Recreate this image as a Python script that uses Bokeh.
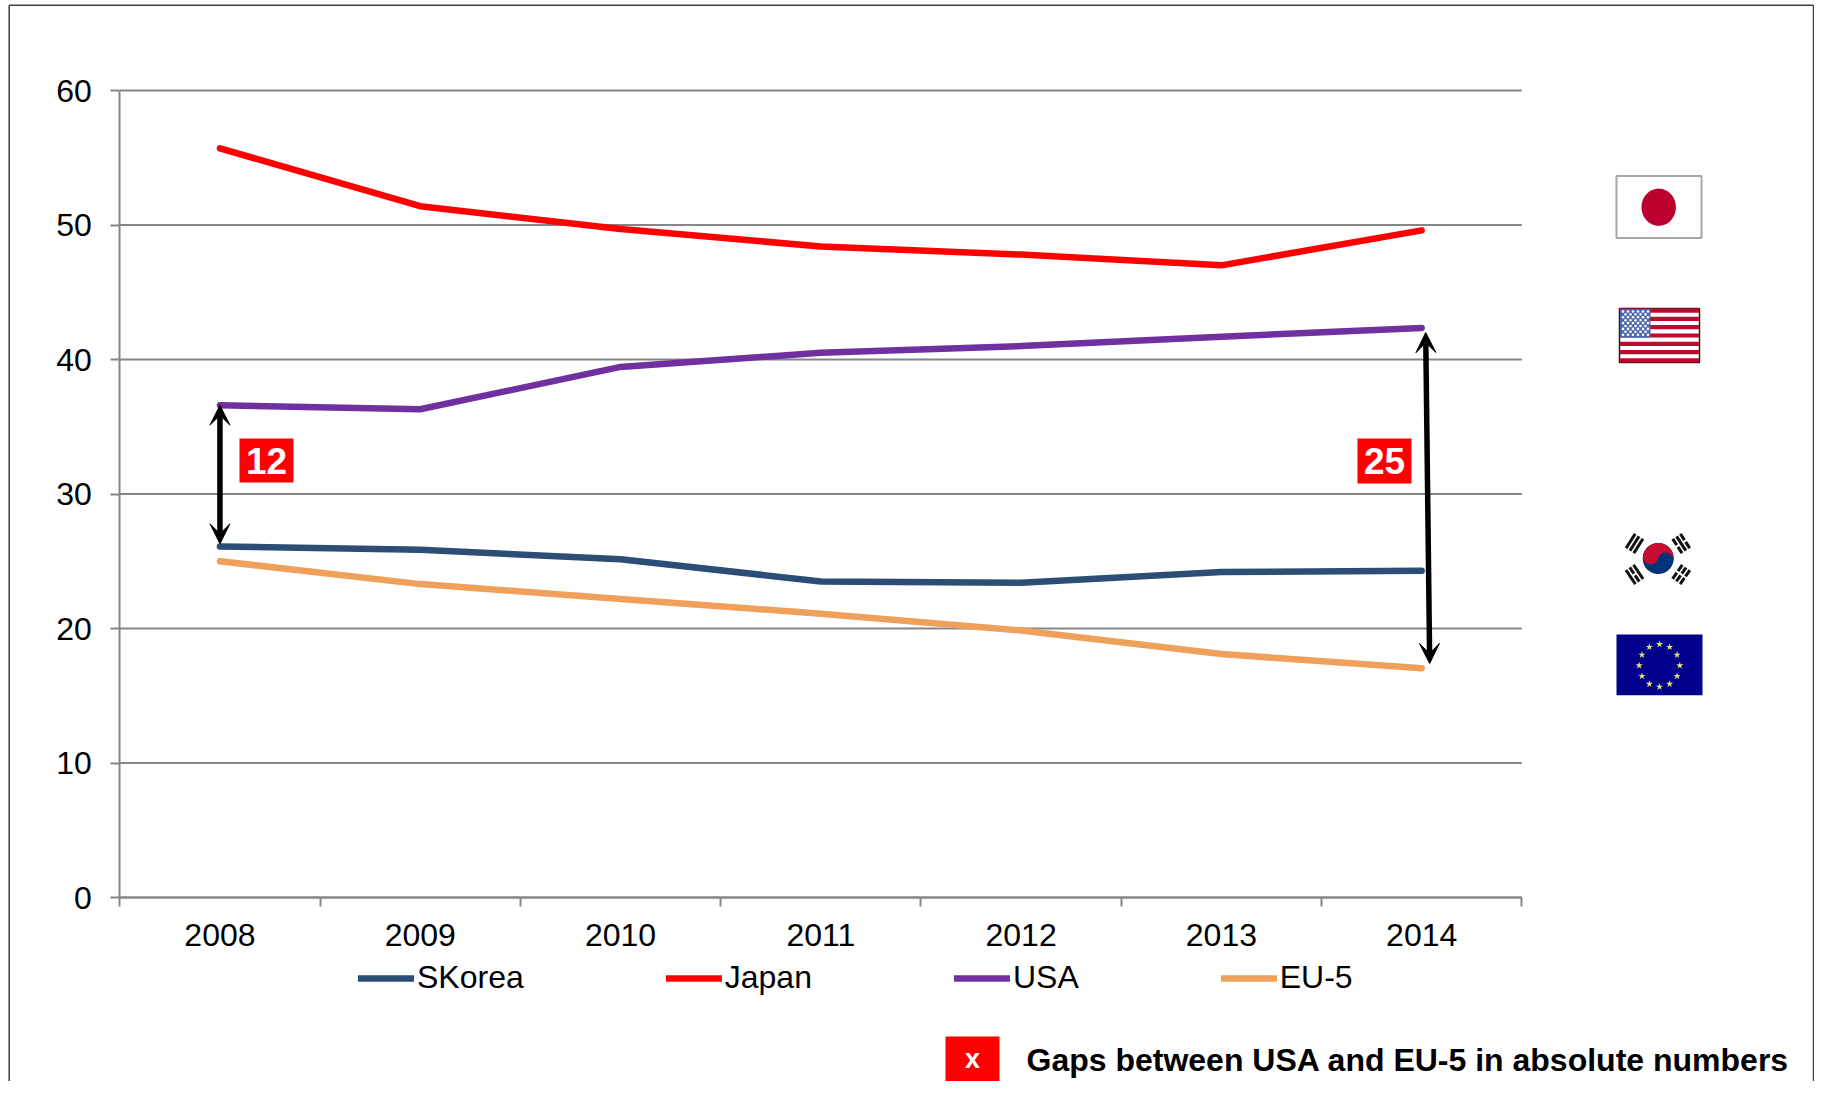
import numpy as np
from bokeh.plotting import figure
from bokeh.embed import file_html
from bokeh.resources import INLINE
from bokeh.core.properties import value
from bokeh.models import (Range1d, FixedTicker, Legend, LegendItem, Arrow, VeeHead)

years = ["2008", "2009", "2010", "2011", "2012", "2013", "2014"]
skorea = [26.1, 25.85, 25.15, 23.5, 23.4, 24.2, 24.3]
japan = [55.7, 51.4, 49.7, 48.4, 47.8, 47.0, 49.6]
usa = [36.6, 36.3, 39.45, 40.5, 41.0, 41.7, 42.35]
eu5 = [25.0, 23.3, 22.2, 21.1, 19.85, 18.1, 17.05]
y_ticks = [0, 10, 20, 30, 40, 50, 60]
series_names = ["SKorea", "Japan", "USA", "EU-5"]
series_colors = ["#2C4D75", "#FF0000", "#7030A0", "#EFA05A"]
gap_labels = ["12", "25"]
note = "Gaps between USA and EU-5 in absolute numbers"

FONT = value("Liberation Sans")
W, H = 1814, 1081           # the largest size that fits the window with its 8px margin
OFF = 0                     # canvas origin in reference pixels
X0, CAT = 119.3, 200.29     # ref px of the x origin, px per category
Y0, UNIT = 897.0, 13.45     # ref px of y = 0, px per unit


def fx(px):
    return (np.asarray(px, dtype=float) - X0) / CAT


def fy(py):
    return (Y0 - np.asarray(py, dtype=float)) / UNIT


p = figure(width=W, height=H, output_backend="svg", toolbar_location=None,
           x_range=Range1d(float(fx(OFF)), float(fx(OFF + W))),
           y_range=Range1d(float(fy(OFF + H)), float(fy(OFF))),
           min_border=0, min_border_left=0, min_border_right=0,
           min_border_top=0, min_border_bottom=0)
p.outline_line_color = None
p.background_fill_color = "white"
p.border_fill_color = "white"

AX = "#868686"
centres = [i + 0.5 for i in range(len(years))]
xa = p.xaxis[0]
xa.fixed_location = 0
xa.bounds = (0, len(years))
xa.ticker = FixedTicker(ticks=centres, minor_ticks=list(range(len(years) + 1)))
xa.major_label_overrides = {c: y for c, y in zip(centres, years)}
xa.major_tick_in = 0
xa.major_tick_out = 0
xa.minor_tick_in = 0
xa.minor_tick_out = 9
xa.minor_tick_line_color = AX
xa.minor_tick_line_width = 2
xa.axis_line_color = AX
xa.axis_line_width = 2
xa.major_label_standoff = 17
xa.major_label_text_font = "Liberation Sans"
xa.major_label_text_font_size = "32px"
xa.major_label_text_color = "black"

ya = p.yaxis[0]
ya.fixed_location = 0
ya.bounds = (0, 60)
ya.ticker = FixedTicker(ticks=y_ticks, minor_ticks=[])
ya.major_tick_in = 0
ya.major_tick_out = 9
ya.major_tick_line_color = AX
ya.major_tick_line_width = 2
ya.axis_line_color = AX
ya.axis_line_width = 2
ya.major_label_standoff = 19
ya.major_label_text_font = "Liberation Sans"
ya.major_label_text_font_size = "32px"
ya.major_label_text_color = "black"

p.xgrid.visible = False
p.ygrid.visible = False
p.segment(x0=[0] * len(y_ticks), x1=[len(years)] * len(y_ticks), y0=y_ticks, y1=y_ticks,
          line_color=AX, line_width=2)

# page frame
p.multi_line([fx([8.7, 8.7]).tolist(), fx([8.7, 1813]).tolist(), fx([1813, 1813]).tolist()],
             [fy([1081, 4.7]).tolist(), fy([4.7, 4.7]).tolist(), fy([4.7, 1081]).tolist()],
             line_color="#404040", line_width=1.5)

renderers = []
for vals, col in zip([skorea, japan, usa, eu5], series_colors):
    renderers.append(p.line(centres, vals, line_color=col, line_width=6.5,
                            line_cap="round", line_join="round"))

legend = Legend(items=[LegendItem(label=n, renderers=[r]) for n, r in zip(series_names, renderers)],
                orientation="horizontal", location=(358, 85), spacing=142,
                glyph_width=56, glyph_height=30, label_standoff=3, padding=0, margin=0,
                background_fill_alpha=0, border_line_color=None,
                label_text_font="Liberation Sans", label_text_font_size="32px",
                label_text_color="black")
p.add_layout(legend)


def head():
    return VeeHead(size=20, fill_color="black", line_color="black", line_width=1)


# gap arrows, from the series values
p.add_layout(Arrow(start=head(), end=head(), x_start=centres[0], y_start=usa[0],
                   x_end=centres[0], y_end=skorea[0] + 0.2,
                   line_color="black", line_width=5.5))
p.add_layout(Arrow(start=head(), end=head(), x_start=centres[-1] + 0.02, y_start=usa[-1] - 0.35,
                   x_end=centres[-1] + 0.04, y_end=eu5[-1] + 0.35,
                   line_color="black", line_width=5.5))


def red_box(x0, x1, y0, y1, txt, size):
    p.quad(left=[float(fx(x0))], right=[float(fx(x1))], top=[float(fy(y0))], bottom=[float(fy(y1))],
           fill_color="#FF0000", line_color=None)
    p.text([float(fx((x0 + x1) / 2))], [float(fy((y0 + y1) / 2))], text=[txt], text_color="white",
           text_font=FONT, text_font_style="bold", text_font_size=size,
           text_align="center", text_baseline="middle")


red_box(239, 293, 438, 482, gap_labels[0], "37px")
red_box(1357, 1411, 438, 483, gap_labels[1], "37px")
red_box(945, 999, 1036, 1081, "x", "27px")
p.text([float(fx(1026))], [float(fy(1059))], text=[note], text_color="black", text_font=FONT,
       text_font_style="bold", text_font_size="32px", text_align="left", text_baseline="middle")


def rect(x0, x1, y0, y1, fill, line=None, lw=1):
    p.quad(left=[float(fx(x0))], right=[float(fx(x1))], top=[float(fy(y0))], bottom=[float(fy(y1))],
           fill_color=fill, line_color=line, line_width=lw)


t = np.linspace(0, 2 * np.pi, 80)
# Japan flag
rect(1616, 1701, 175.5, 237.5, "white", "#A6A6A6", 2)
p.patch(fx(1658.2 + 17.2 * np.cos(t)), fy(206.7 + 18.6 * np.sin(t)), fill_color="#BC002D", line_color=None)

# USA flag
rect(1619, 1699, 308, 362, "white", "#222222", 1.5)
sh = (362 - 308) / 13
for i in range(0, 13, 2):
    rect(1619.5, 1698.5, 308 + i * sh, 308 + (i + 1) * sh, "#BF0A30")
rect(1619.5, 1650, 308.5, 308 + 7 * sh, "#4A68AE")
sx, sy = [], []
for r in range(9):
    n = 6 if r % 2 == 0 else 5
    for c in range(n):
        sx.append(1622.5 + c * 5 + (0 if r % 2 == 0 else 2.5))
        sy.append(311 + r * 2.9)
p.scatter(fx(sx), fy(sy), size=2.6, marker="circle", fill_color="white", line_color=None)

# Korea flag
cx, cy, rr = 1657.7, 558.0, 15.5
tilt = np.radians(14)
a_top = np.linspace(0, np.pi, 40)
big = np.c_[rr * np.cos(np.pi + a_top), rr * np.sin(np.pi + a_top)]
sm1 = np.c_[rr / 2 + rr / 2 * np.cos(a_top), rr / 2 * np.sin(-a_top)]
sm2 = np.c_[-rr / 2 + rr / 2 * np.cos(a_top), rr / 2 * np.sin(a_top)]
red_pts = np.r_[big, sm1, sm2]
rot = np.array([[np.cos(tilt), -np.sin(tilt)], [np.sin(tilt), np.cos(tilt)]])
red_pts = red_pts @ rot.T
p.patch(fx(cx + rr * np.cos(t)), fy(cy + rr * np.sin(t)), fill_color="#003478", line_color=None)
p.patch(fx(cx + red_pts[:, 0]), fy(cy + red_pts[:, 1]), fill_color="#C60C30", line_color=None)

tri = [((1634, 543), [0, 0, 0]), ((1680.7, 543), [1, 0, 1]),
       ((1634, 574), [0, 1, 0]), ((1680.7, 574), [1, 1, 1])]
bx, by = [], []
for (tx, ty), pat in tri:
    d = np.array([cx - tx, cy - ty], dtype=float)
    d /= np.hypot(*d)
    n = np.array([-d[1], d[0]])
    for k, broken in zip((-4.6, 0, 4.6), pat):
        c = np.array([tx, ty]) + d * k
        if broken:
            segs = [(-8.5, -1), (1, 8.5)]
        else:
            segs = [(-8.5, 8.5)]
        for a, b in segs:
            q0, q1 = c + n * a, c + n * b
            bx.append(fx([q0[0], q1[0]]).tolist())
            by.append(fy([q0[1], q1[1]]).tolist())
p.multi_line(bx, by, line_color="#111111", line_width=3)

# EU flag
rect(1616, 1702, 634, 694.7, "#00008C")
ang = np.arange(12) * np.pi / 6
p.scatter(fx(1659 + 20.3 * np.cos(ang)), fy(665 + 21.3 * np.sin(ang)), marker="star", size=7.5,
          fill_color="#E6E46C", line_color=None)

open("out.html", "w").write(file_html(p, INLINE))
